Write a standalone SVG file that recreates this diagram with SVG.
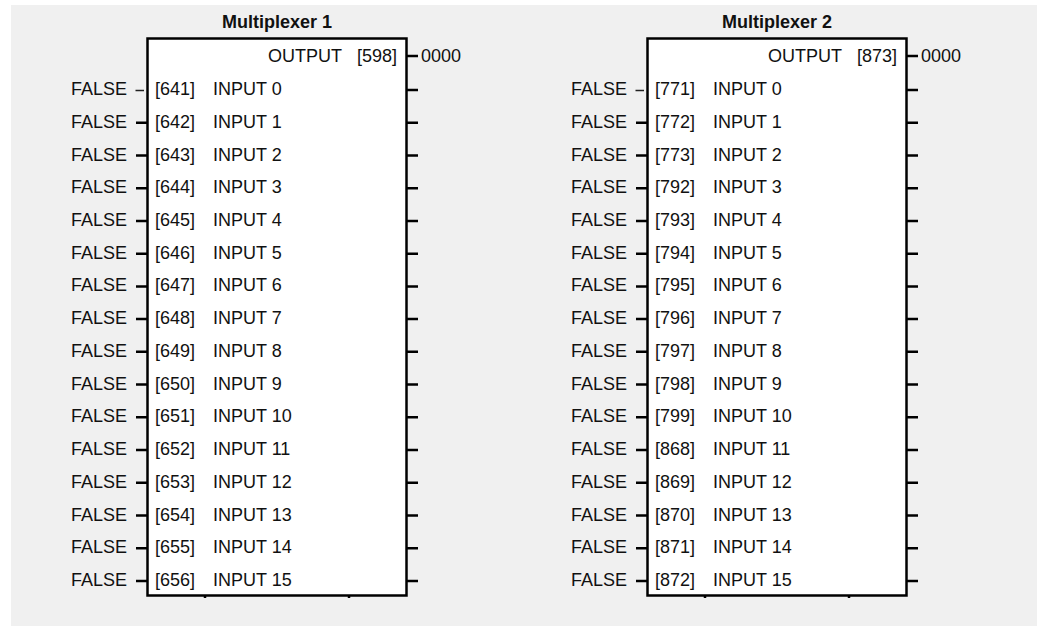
<svg xmlns="http://www.w3.org/2000/svg" width="1037" height="626" viewBox="0 0 1037 626">
<style>
text{font-family:"Liberation Sans",Arial,sans-serif;font-size:18px;fill:#111}
.t{font-weight:bold;text-anchor:middle}
.r{text-anchor:end}
.box{fill:#fff;stroke:#000;stroke-width:2.5}
.s{stroke:#000;stroke-width:2.5}
.th{stroke:#222;stroke-width:1.4}
</style>
<rect x="11" y="5" width="1026" height="621" fill="#f0f0f0"/>
<g id="mux1">
<text class="t" x="277" y="28">Multiplexer 1</text>
<rect class="box" x="147.5" y="38.5" width="259" height="557"/>
<line class="s" x1="205" y1="595" x2="205" y2="598"/>
<line class="s" x1="349" y1="595" x2="349" y2="598"/>
<text class="r" x="342" y="62">OUTPUT</text>
<text class="r" x="397" y="62">[598]</text>
<text x="421" y="62">0000</text>
<g class="labels">
<text class="r" x="127" y="95">FALSE</text><text x="155" y="95">[641]</text><text x="213" y="95">INPUT 0</text>
<text class="r" x="127" y="127.7">FALSE</text><text x="155" y="127.7">[642]</text><text x="213" y="127.7">INPUT 1</text>
<text class="r" x="127" y="160.5">FALSE</text><text x="155" y="160.5">[643]</text><text x="213" y="160.5">INPUT 2</text>
<text class="r" x="127" y="193.2">FALSE</text><text x="155" y="193.2">[644]</text><text x="213" y="193.2">INPUT 3</text>
<text class="r" x="127" y="225.9">FALSE</text><text x="155" y="225.9">[645]</text><text x="213" y="225.9">INPUT 4</text>
<text class="r" x="127" y="258.7">FALSE</text><text x="155" y="258.7">[646]</text><text x="213" y="258.7">INPUT 5</text>
<text class="r" x="127" y="291.4">FALSE</text><text x="155" y="291.4">[647]</text><text x="213" y="291.4">INPUT 6</text>
<text class="r" x="127" y="324.1">FALSE</text><text x="155" y="324.1">[648]</text><text x="213" y="324.1">INPUT 7</text>
<text class="r" x="127" y="356.8">FALSE</text><text x="155" y="356.8">[649]</text><text x="213" y="356.8">INPUT 8</text>
<text class="r" x="127" y="389.6">FALSE</text><text x="155" y="389.6">[650]</text><text x="213" y="389.6">INPUT 9</text>
<text class="r" x="127" y="422.3">FALSE</text><text x="155" y="422.3">[651]</text><text x="213" y="422.3">INPUT 10</text>
<text class="r" x="127" y="455">FALSE</text><text x="155" y="455">[652]</text><text x="213" y="455">INPUT 11</text>
<text class="r" x="127" y="487.8">FALSE</text><text x="155" y="487.8">[653]</text><text x="213" y="487.8">INPUT 12</text>
<text class="r" x="127" y="520.5">FALSE</text><text x="155" y="520.5">[654]</text><text x="213" y="520.5">INPUT 13</text>
<text class="r" x="127" y="553.2">FALSE</text><text x="155" y="553.2">[655]</text><text x="213" y="553.2">INPUT 14</text>
<text class="r" x="127" y="586">FALSE</text><text x="155" y="586">[656]</text><text x="213" y="586">INPUT 15</text>
</g>
</g>
<g id="mux2">
<text class="t" x="777" y="28">Multiplexer 2</text>
<rect class="box" x="647.5" y="38.5" width="259" height="557"/>
<line class="s" x1="705" y1="595" x2="705" y2="598"/>
<line class="s" x1="849" y1="595" x2="849" y2="598"/>
<text class="r" x="842" y="62">OUTPUT</text>
<text class="r" x="897" y="62">[873]</text>
<text x="921" y="62">0000</text>
<g class="labels">
<text class="r" x="627" y="95">FALSE</text><text x="655" y="95">[771]</text><text x="713" y="95">INPUT 0</text>
<text class="r" x="627" y="127.7">FALSE</text><text x="655" y="127.7">[772]</text><text x="713" y="127.7">INPUT 1</text>
<text class="r" x="627" y="160.5">FALSE</text><text x="655" y="160.5">[773]</text><text x="713" y="160.5">INPUT 2</text>
<text class="r" x="627" y="193.2">FALSE</text><text x="655" y="193.2">[792]</text><text x="713" y="193.2">INPUT 3</text>
<text class="r" x="627" y="225.9">FALSE</text><text x="655" y="225.9">[793]</text><text x="713" y="225.9">INPUT 4</text>
<text class="r" x="627" y="258.7">FALSE</text><text x="655" y="258.7">[794]</text><text x="713" y="258.7">INPUT 5</text>
<text class="r" x="627" y="291.4">FALSE</text><text x="655" y="291.4">[795]</text><text x="713" y="291.4">INPUT 6</text>
<text class="r" x="627" y="324.1">FALSE</text><text x="655" y="324.1">[796]</text><text x="713" y="324.1">INPUT 7</text>
<text class="r" x="627" y="356.8">FALSE</text><text x="655" y="356.8">[797]</text><text x="713" y="356.8">INPUT 8</text>
<text class="r" x="627" y="389.6">FALSE</text><text x="655" y="389.6">[798]</text><text x="713" y="389.6">INPUT 9</text>
<text class="r" x="627" y="422.3">FALSE</text><text x="655" y="422.3">[799]</text><text x="713" y="422.3">INPUT 10</text>
<text class="r" x="627" y="455">FALSE</text><text x="655" y="455">[868]</text><text x="713" y="455">INPUT 11</text>
<text class="r" x="627" y="487.8">FALSE</text><text x="655" y="487.8">[869]</text><text x="713" y="487.8">INPUT 12</text>
<text class="r" x="627" y="520.5">FALSE</text><text x="655" y="520.5">[870]</text><text x="713" y="520.5">INPUT 13</text>
<text class="r" x="627" y="553.2">FALSE</text><text x="655" y="553.2">[871]</text><text x="713" y="553.2">INPUT 14</text>
<text class="r" x="627" y="586">FALSE</text><text x="655" y="586">[872]</text><text x="713" y="586">INPUT 15</text>
</g>
</g>
<g id="connectors">
<path class="s" d="M407 56H418M907 56H918"/>
<path class="th" d="M135.5 90.5H144M635.5 90.5H644"/>
<path class="s" d="M136 122.7H147M136 155.5H147M136 188.2H147M136 220.9H147M136 253.7H147M136 286.4H147M136 319.1H147M136 351.8H147M136 384.6H147M136 417.3H147M136 450H147M136 482.8H147M136 515.5H147M136 548.2H147M136 581H147"/>
<path class="s" d="M636 122.7H647M636 155.5H647M636 188.2H647M636 220.9H647M636 253.7H647M636 286.4H647M636 319.1H647M636 351.8H647M636 384.6H647M636 417.3H647M636 450H647M636 482.8H647M636 515.5H647M636 548.2H647M636 581H647"/>
<path class="s" d="M407 90H418M407 122.7H418M407 155.5H418M407 188.2H418M407 220.9H418M407 253.7H418M407 286.4H418M407 319.1H418M407 351.8H418M407 384.6H418M407 417.3H418M407 450H418M407 482.8H418M407 515.5H418M407 548.2H418M407 581H418"/>
<path class="s" d="M907 90H918M907 122.7H918M907 155.5H918M907 188.2H918M907 220.9H918M907 253.7H918M907 286.4H918M907 319.1H918M907 351.8H918M907 384.6H918M907 417.3H918M907 450H918M907 482.8H918M907 515.5H918M907 548.2H918M907 581H918"/>
</g>
</svg>
